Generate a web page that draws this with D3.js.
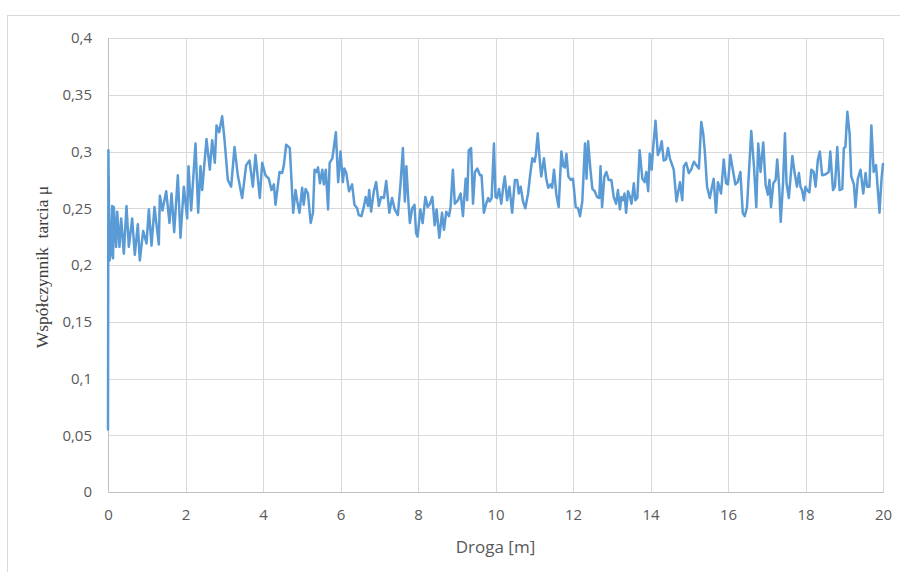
<!DOCTYPE html>
<html>
<head>
<meta charset="utf-8">
<script src="https://cdn.jsdelivr.net/npm/d3@7"></script>
<style>
  html, body { margin: 0; padding: 0; background: #fff; }
  svg { display: block; }
</style>
</head>
<body>
<svg id="chart"></svg>
<script>
// distance [m]
const droga = [
  0, 0.01, 0.04, 0.07, 0.108, 0.13, 0.15, 0.21, 0.237, 0.297, 0.34, 0.409, 0.477, 0.538, 0.624, 0.692,
  0.77, 0.821, 0.908, 0.994, 1.054, 1.123, 1.2, 1.312, 1.338, 1.406, 1.501, 1.587, 1.639, 1.708, 1.802,
  1.871, 1.957, 2.043, 2.077, 2.146, 2.258, 2.327, 2.387, 2.43, 2.542, 2.628, 2.688, 2.757, 2.8, 2.869,
  2.946, 3.006, 3.092, 3.178, 3.265, 3.35, 3.462, 3.566, 3.652, 3.738, 3.806, 3.918, 3.979, 4.065, 4.15,
  4.219, 4.28, 4.323, 4.426, 4.495, 4.538, 4.598, 4.692, 4.779,
  4.84, 4.88, 4.94, 5.01, 5.05, 5.10, 5.16, 5.23, 5.29, 5.33, 5.38, 5.42, 5.47, 5.53, 5.57, 5.62, 5.68,
  5.72, 5.79, 5.83, 5.88, 5.94, 6.00, 6.06, 6.10, 6.15, 6.22, 6.30, 6.36, 6.43, 6.47, 6.54, 6.60, 6.65,
  6.71, 6.74, 6.79, 6.86, 6.92, 6.99, 7.05, 7.12, 7.18, 7.26, 7.33, 7.40, 7.48, 7.55, 7.61, 7.66, 7.70,
  7.75, 7.79, 7.85, 7.91, 7.95, 7.99, 8.06, 8.12, 8.19, 8.25, 8.31, 8.37, 8.43, 8.48, 8.55, 8.62, 8.67,
  8.73, 8.80, 8.84, 8.90, 8.95, 9.03, 9.10, 9.16, 9.23, 9.27, 9.31, 9.37, 9.42, 9.47, 9.53, 9.60, 9.64,
  9.70, 9.76, 9.81, 9.85, 9.90, 9.96, 10.00, 10.04, 10.09, 10.15, 10.20, 10.24, 10.30, 10.36, 10.43,
  10.50, 10.56, 10.60, 10.65, 10.71, 10.77, 10.84, 10.90, 10.95, 11.01, 11.04, 11.09, 11.14, 11.18,
  11.25, 11.31, 11.36, 11.42, 11.46, 11.51, 11.57, 11.63, 11.70, 11.75, 11.79, 11.83, 11.88, 11.94,
  12.00, 12.07, 12.13, 12.18, 12.24, 12.31, 12.35, 12.39, 12.45, 12.50, 12.56, 12.62, 12.68, 12.71,
  12.75, 12.81, 12.86, 12.92, 12.99, 13.05, 13.11, 13.16, 13.21, 13.25, 13.29, 13.33, 13.37, 13.42,
  13.47, 13.51, 13.57, 13.61, 13.66, 13.72, 13.79, 13.85, 13.89, 13.94, 13.98, 14.03, 14.07, 14.13,
  14.19, 14.24, 14.29, 14.34, 14.40, 14.45, 14.50, 14.56, 14.60, 14.67, 14.76,
  14.82, 14.86, 14.92, 14.99, 15.05, 15.12, 15.18, 15.25, 15.31, 15.36, 15.40, 15.46, 15.53, 15.57,
  15.63, 15.69, 15.74, 15.82, 15.89, 15.95, 16.00, 16.06, 16.12, 16.19, 16.25, 16.32, 16.38, 16.43,
  16.49, 16.60, 16.67, 16.73, 16.78, 16.84, 16.91, 16.97, 17.03, 17.07, 17.11, 17.17, 17.23, 17.27,
  17.32, 17.36, 17.42, 17.47, 17.51, 17.57, 17.66, 17.72, 17.78, 17.83, 17.87, 17.91, 17.96, 18.00,
  18.04, 18.10, 18.15, 18.21, 18.26, 18.32, 18.37, 18.43, 18.52, 18.60, 18.64, 18.71, 18.76, 18.82,
  18.88, 18.95, 18.99, 19.03, 19.08, 19.14, 19.18, 19.25, 19.29, 19.35, 19.42, 19.49, 19.55, 19.59,
  19.65, 19.70, 19.76, 19.82, 19.91, 19.96, 20.00
];

// friction coefficient
const mu = [
  0.055, 0.301, 0.204, 0.210, 0.252, 0.206, 0.251, 0.216, 0.247, 0.216, 0.241, 0.210, 0.252, 0.216, 0.241, 0.209,
  0.236, 0.204, 0.230, 0.219, 0.249, 0.217, 0.251, 0.218, 0.261, 0.248, 0.265, 0.237, 0.263, 0.229, 0.279,
  0.224, 0.269, 0.241, 0.287, 0.248, 0.307, 0.246, 0.287, 0.266, 0.311, 0.284, 0.310, 0.290, 0.323, 0.317,
  0.331, 0.311, 0.275, 0.269, 0.304, 0.279, 0.259, 0.288, 0.292, 0.269, 0.297, 0.259, 0.290, 0.279, 0.276,
  0.266, 0.271, 0.253, 0.282, 0.281, 0.288, 0.306, 0.303, 0.246,
  0.266, 0.257, 0.246, 0.268, 0.253, 0.267, 0.263, 0.237, 0.246, 0.284, 0.282, 0.286, 0.272, 0.284, 0.271, 0.284, 0.249,
  0.290, 0.294, 0.304, 0.317, 0.273, 0.300, 0.273, 0.285, 0.281, 0.265, 0.271, 0.253, 0.250, 0.244, 0.243, 0.251, 0.260,
  0.252, 0.266, 0.247, 0.265, 0.273, 0.252, 0.260, 0.259, 0.274, 0.246, 0.259, 0.249, 0.244, 0.272, 0.303, 0.256, 0.287,
  0.257, 0.237, 0.250, 0.253, 0.228, 0.225, 0.249, 0.237, 0.260, 0.251, 0.254, 0.260, 0.235, 0.249, 0.224, 0.246, 0.231,
  0.247, 0.243, 0.251, 0.284, 0.254, 0.257, 0.263, 0.243, 0.276, 0.257, 0.301, 0.303, 0.254, 0.282, 0.285, 0.279, 0.279,
  0.246, 0.254, 0.259, 0.256, 0.259, 0.307, 0.260, 0.259, 0.267, 0.254, 0.269, 0.278, 0.257, 0.269, 0.246,
  0.275, 0.275, 0.263, 0.269, 0.256, 0.250, 0.263, 0.281, 0.294, 0.291, 0.297, 0.316, 0.293, 0.278,
  0.294, 0.276, 0.268, 0.271, 0.268, 0.284, 0.262, 0.251, 0.300, 0.287, 0.286, 0.298, 0.278, 0.275,
  0.276, 0.251, 0.250, 0.243, 0.256, 0.307, 0.276, 0.309, 0.284, 0.267, 0.265, 0.260, 0.259, 0.287,
  0.251, 0.278, 0.282, 0.275, 0.275, 0.260, 0.254, 0.266, 0.249, 0.260, 0.257, 0.263, 0.246, 0.265,
  0.260, 0.254, 0.272, 0.257, 0.259, 0.301, 0.276, 0.273, 0.282, 0.265, 0.298, 0.284, 0.304, 0.327,
  0.297, 0.301, 0.309, 0.292, 0.293, 0.303, 0.294, 0.288, 0.284, 0.256, 0.273,
  0.257, 0.287, 0.290, 0.281, 0.284, 0.291, 0.288, 0.285, 0.326, 0.316, 0.301, 0.269, 0.259, 0.266,
  0.276, 0.246, 0.273, 0.263, 0.293, 0.272, 0.271, 0.297, 0.285, 0.271, 0.273, 0.282, 0.246, 0.243,
  0.251, 0.318, 0.287, 0.251, 0.307, 0.282, 0.308, 0.271, 0.262, 0.275, 0.251, 0.272, 0.275, 0.293,
  0.269, 0.238, 0.272, 0.316, 0.272, 0.259, 0.296, 0.281, 0.269, 0.281, 0.269, 0.266, 0.257, 0.269,
  0.266, 0.264, 0.284, 0.282, 0.269, 0.293, 0.300, 0.279, 0.280, 0.282, 0.300, 0.266, 0.269, 0.304,
  0.266, 0.267, 0.303, 0.304, 0.335, 0.315, 0.278, 0.271, 0.251, 0.276, 0.284, 0.263, 0.281, 0.269,
  0.269, 0.323, 0.282, 0.288, 0.246, 0.275, 0.289
];

const yTicks = [0, 0.05, 0.1, 0.15, 0.2, 0.25, 0.3, 0.35, 0.4];
const xTicks = [0, 2, 4, 6, 8, 10, 12, 14, 16, 18, 20];

const width = 900, height = 572;
const margin = { top: 38, right: 17, bottom: 80, left: 108 };

const svg = d3.select("#chart")
  .attr("width", width)
  .attr("height", height);

// chart area border (cut by the page edges)
svg.append("rect")
  .attr("x", 7.5).attr("y", 15.5)
  .attr("width", 920).attr("height", 600)
  .attr("fill", "none")
  .attr("stroke", "#d9d9d9")
  .attr("stroke-width", 1);

const x = d3.scaleLinear().domain([0, 20]).range([margin.left, width - margin.right]);
const y = d3.scaleLinear().domain([0, 0.4]).range([height - margin.bottom, margin.top]);

const fmt = d => String(d).replace(".", ",");

// horizontal grid
svg.append("g")
  .attr("transform", `translate(${margin.left},0)`)
  .call(d3.axisLeft(y).tickValues(yTicks).tickSize(-(x(20) - x(0))).tickFormat(""))
  .call(g => g.select(".domain").remove())
  .call(g => g.selectAll("line").attr("stroke", "#d9d9d9").attr("shape-rendering", "crispEdges"));

// vertical grid
svg.append("g")
  .attr("transform", `translate(0,${margin.top})`)
  .call(d3.axisBottom(x).tickValues(xTicks).tickSize(y(0) - y(0.4)).tickFormat(""))
  .call(g => g.select(".domain").remove())
  .call(g => g.selectAll("line").attr("stroke", "#d9d9d9").attr("shape-rendering", "crispEdges"));

// y axis labels
svg.append("g")
  .attr("transform", `translate(${margin.left},0)`)
  .call(d3.axisLeft(y).tickValues(yTicks).tickSize(0).tickPadding(16).tickFormat(fmt))
  .call(g => g.select(".domain").remove())
  .call(g => g.selectAll("text")
    .attr("font-family", "'Open Sans', sans-serif")
    .attr("font-size", 15)
    .attr("fill", "#595959"));

// x axis
svg.append("g")
  .attr("transform", `translate(0,${y(0)})`)
  .call(d3.axisBottom(x).tickValues(xTicks).tickSize(0).tickPadding(17).tickFormat(d => d))
  .call(g => g.select(".domain").attr("stroke", "#bfbfbf").attr("shape-rendering", "crispEdges"))
  .call(g => g.selectAll("text")
    .attr("font-family", "'Open Sans', sans-serif")
    .attr("font-size", 15)
    .attr("fill", "#595959"));

// left axis line
svg.append("line")
  .attr("x1", x(0)).attr("x2", x(0))
  .attr("y1", y(0.4)).attr("y2", y(0))
  .attr("stroke", "#bfbfbf")
  .attr("shape-rendering", "crispEdges");

// data line
const points = droga.map((d, i) => ({ x: d, y: mu[i] }));
const line = d3.line().x(d => x(d.x)).y(d => y(d.y));

svg.append("path")
  .attr("d", line(points))
  .attr("fill", "none")
  .attr("stroke", "#5b9bd5")
  .attr("stroke-width", 2.5)
  .attr("stroke-linejoin", "round")
  .attr("stroke-linecap", "round");

// axis titles
svg.append("text")
  .attr("x", (x(0) + x(20)) / 2)
  .attr("y", 553)
  .attr("text-anchor", "middle")
  .attr("font-family", "'Open Sans', sans-serif")
  .attr("font-size", 17)
  .attr("fill", "#595959")
  .text("Droga [m]");

svg.append("text")
  .attr("transform", "translate(48,267) rotate(-90)")
  .attr("text-anchor", "middle")
  .attr("font-family", "'Liberation Serif', 'Times New Roman', serif")
  .attr("font-size", 17.5)
  .attr("fill", "#404040")
  .attr("xml:space", "preserve")
  .text("Współczynnik  tarcia μ");
</script>
</body>
</html>
